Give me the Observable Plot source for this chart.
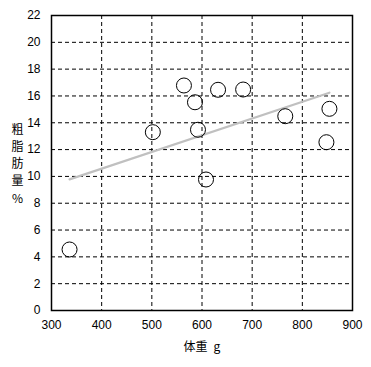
<!DOCTYPE html>
<html>
<head>
<meta charset="utf-8">
<script src="https://cdn.jsdelivr.net/npm/d3@7"></script>
<script src="https://cdn.jsdelivr.net/npm/@observablehq/plot@0.6"></script>
<style>
  html, body { margin: 0; padding: 0; background: #fff; }
</style>
</head>
<body>
<div id="chart"></div>
<script>
const weights = [336, 502, 564, 586, 592, 608, 632, 682, 766, 854, 848];
const fatPct  = [4.55, 13.3, 16.78, 15.53, 13.48, 9.77, 16.46, 16.48, 14.49, 15.04, 12.55];
const xTicks = [300, 400, 500, 600, 700, 800, 900];
const yTicks = [0, 2, 4, 6, 8, 10, 12, 14, 16, 18, 20, 22];
const xLabel = "体重\u2002g";
const yLabel = "粗\n脂\n肪\n量\n%";

const data = weights.map((w, i) => ({ w, f: fatPct[i] }));

const chart = Plot.plot({
  width: 371,
  height: 367,
  marginLeft: 51,
  marginRight: 19,
  marginTop: 15,
  marginBottom: 57,
  style: { fontFamily: "'Liberation Sans', 'Noto Sans CJK JP', sans-serif", fontSize: "12px", color: "#000", background: "#fff" },
  x: { domain: [300, 900], ticks: xTicks, label: null },
  y: { domain: [0, 22], ticks: yTicks, label: null },
  marks: [
    Plot.gridX(xTicks.slice(1, -1), { stroke: "#000", strokeOpacity: 1, strokeDasharray: "4,3" }),
    Plot.gridY(yTicks.slice(1, -1), { stroke: "#000", strokeOpacity: 1, strokeDasharray: "4,3" }),
    Plot.axisX({ ticks: xTicks, tickSize: 0, tickPadding: 10, fontSize: 12, label: null }),
    Plot.axisY({ ticks: yTicks, tickSize: 0, tickPadding: 11, fontSize: 12, label: null }),
    Plot.linearRegressionY(data, { x: "w", y: "f", stroke: "#c0c0c0", strokeWidth: 2.2, ci: 0 }),
    Plot.dot(data, { x: "w", y: "f", r: 7.5, stroke: "#000", strokeWidth: 1, fill: "none" }),
    Plot.frame({ stroke: "#000", strokeWidth: 1.5 }),
    Plot.text([xLabel], { frameAnchor: "bottom", dy: 40, fontSize: 12, fontFamily: "'Noto Sans CJK JP', sans-serif" }),
    Plot.text([yLabel], { frameAnchor: "left", textAnchor: "middle", dx: -34, fontSize: 12, lineHeight: 1.42, fontFamily: "'Noto Sans CJK JP', sans-serif" })
  ]
});
document.getElementById("chart").appendChild(chart);
</script>
</body>
</html>
